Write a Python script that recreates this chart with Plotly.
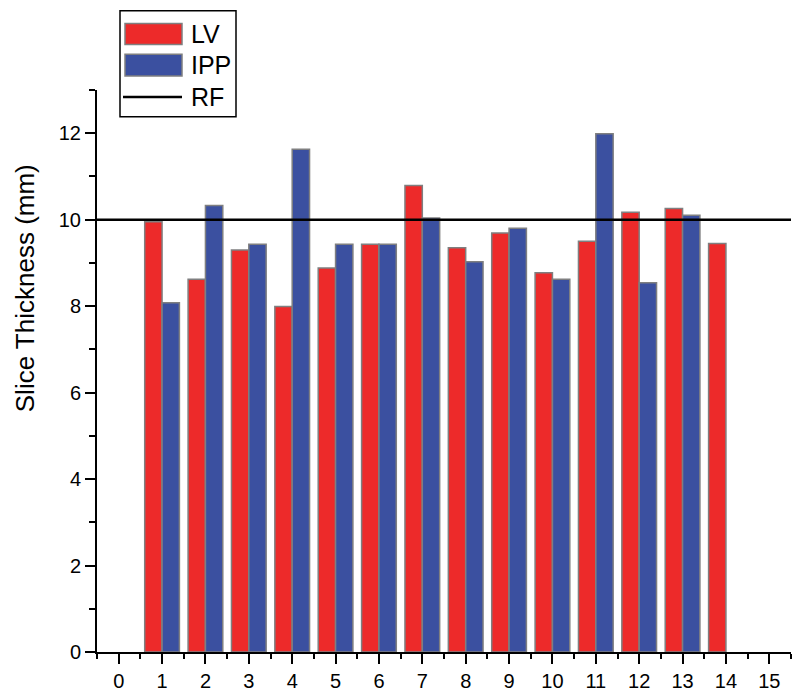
import plotly.graph_objects as go

positions = list(range(1, 15))
lv = [9.95, 8.62, 9.30, 7.99, 8.88, 9.43, 10.79, 9.35, 9.69, 8.77, 9.50, 10.17, 10.26, 9.45]
ipp = [8.08, 10.33, 9.43, 11.63, 9.43, 9.43, 10.04, 9.03, 9.80, 8.62, 11.99, 8.54, 10.10, None]
rf = 10
x_ticks = list(range(0, 16))
y_ticks = [0, 2, 4, 6, 8, 10, 12]

RED = "#ED2A2A"
BLUE = "#3B50A0"
EDGE = "#7F7F80"
FONT = "Liberation Sans, Arial, sans-serif"

fig = go.Figure()
fig.add_trace(go.Bar(x=positions, y=lv, name="LV", marker=dict(color=RED, line=dict(color=EDGE, width=1.5))))
fig.add_trace(go.Bar(x=positions, y=ipp, name="IPP", marker=dict(color=BLUE, line=dict(color=EDGE, width=1.5))))

# RF reference line
fig.add_shape(type="line", xref="paper", yref="y", x0=0, x1=1, y0=rf, y1=rf,
              line=dict(color="black", width=2.5), layer="above")

# custom legend
def px2x(p):
    return (p - 97) / 694
def py2y(p):
    return (657 - p) / 567

fig.add_shape(type="rect", xref="paper", yref="paper", x0=px2x(120), x1=px2x(236), y0=py2y(117), y1=py2y(10),
              line=dict(color="black", width=1.5), fillcolor="white")
fig.add_shape(type="rect", xref="paper", yref="paper", x0=px2x(125), x1=px2x(182), y0=py2y(44), y1=py2y(23),
              line=dict(color=EDGE, width=1.5), fillcolor=RED)
fig.add_shape(type="rect", xref="paper", yref="paper", x0=px2x(125), x1=px2x(182), y0=py2y(76), y1=py2y(54),
              line=dict(color=EDGE, width=1.5), fillcolor=BLUE)
fig.add_shape(type="line", xref="paper", yref="paper", x0=px2x(123), x1=px2x(182), y0=py2y(97), y1=py2y(97),
              line=dict(color="black", width=2.5))
for label, yy in [("LV", 33), ("IPP", 65), ("RF", 97)]:
    fig.add_annotation(text=label, xref="paper", yref="paper", x=px2x(189), y=py2y(yy),
                       xanchor="left", yanchor="middle", showarrow=False,
                       font=dict(family=FONT, size=25, color="black"))

fig.add_annotation(text="Slice Thickness (mm)", xref="paper", yref="paper", x=px2x(25), y=py2y(290),
                   textangle=-90, showarrow=False, xanchor="center", yanchor="middle",
                   font=dict(family=FONT, size=26, color="black"))

fig.update_layout(
    width=792, height=693,
    margin=dict(l=97, r=1, t=90, b=36),
    paper_bgcolor="white", plot_bgcolor="white",
    barmode="group", bargap=0.2, bargroupgap=0,
    showlegend=False,
    font=dict(family=FONT, size=20, color="black"),
)
fig.update_xaxes(range=[-0.5, 15.5], tickmode="array", tickvals=x_ticks, ticktext=[str(t) for t in x_ticks],
                 ticks="outside", ticklen=10, tickwidth=2, tickcolor="black",
                 showline=True, linecolor="black", linewidth=2, showgrid=False, zeroline=False,
                 minor=dict(dtick=1, tick0=0.5, ticks="outside", ticklen=5, tickwidth=2, tickcolor="black"),
                 tickfont=dict(family=FONT, size=20, color="black"))
fig.update_yaxes(range=[0, 13], tickmode="array", tickvals=y_ticks, ticktext=[str(t) for t in y_ticks],
                 ticks="outside", ticklen=10, tickwidth=2, tickcolor="black",
                 showline=True, linecolor="black", linewidth=2, showgrid=False, zeroline=False,
                 minor=dict(dtick=1, tick0=1, ticks="outside", ticklen=6, tickwidth=2, tickcolor="black"),
                 tickfont=dict(family=FONT, size=20, color="black"))

fig.write_html("out.html")
